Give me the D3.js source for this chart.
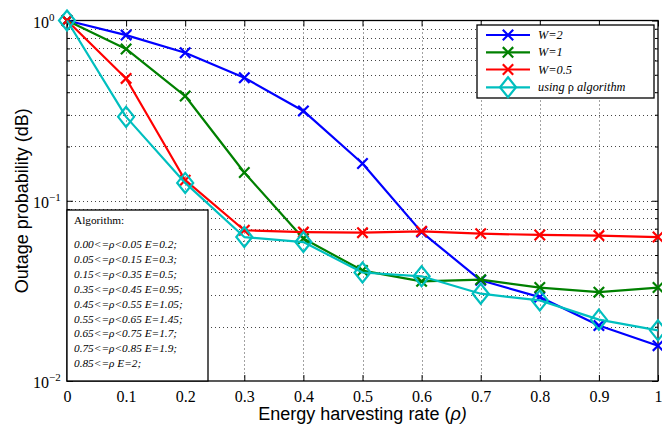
<!DOCTYPE html>
<html>
<head>
<meta charset="utf-8">
<script src="https://cdn.jsdelivr.net/npm/d3@7"></script>
<style>
  body { margin: 0; background: #fff; }
  svg { display: block; }
</style>
</head>
<body>
<svg id="chart" width="662" height="425"></svg>
<script>
// Energy harvesting rate (x) and outage probability for each weighting W
const rho = [0, 0.1, 0.2, 0.3, 0.4, 0.5, 0.6, 0.7, 0.8, 0.9, 1.0];
const outageW2  = [1.0, 0.83, 0.662, 0.481, 0.315, 0.161, 0.067, 0.0362, 0.0292, 0.0203, 0.0157];
const outageW1  = [1.0, 0.695, 0.381, 0.1435, 0.0617, 0.041, 0.0357, 0.0365, 0.033, 0.0311, 0.033];
const outageW05 = [1.0, 0.477, 0.13, 0.0686, 0.067, 0.0665, 0.0677, 0.0657, 0.0646, 0.0641, 0.0629];
const outageAlg = [1.0, 0.292, 0.1256, 0.0629, 0.059, 0.0400, 0.0381, 0.0305, 0.028, 0.0219, 0.0191];

const seriesNames  = ["W=2", "W=1", "W=0.5", "using ρ algorithm"];
const seriesColors = ["#0000ff", "#008000", "#ff0000", "#00bfbf"];
const seriesMarkers = ["cross", "cross", "cross", "diamond"];

const xTickLabels = ["0", "0.1", "0.2", "0.3", "0.4", "0.5", "0.6", "0.7", "0.8", "0.9", "1"];
const yDecades = [0.01, 0.1, 1];
const yExponents = ["−2", "−1", "0"];

const algorithmTitle = "Algorithm:";
const algorithmRules = [
  "0.00<=ρ<0.05 E=0.2;",
  "0.05<=ρ<0.15 E=0.3;",
  "0.15<=ρ<0.35 E=0.5;",
  "0.35<=ρ<0.45 E=0.95;",
  "0.45<=ρ<0.55 E=1.05;",
  "0.55<=ρ<0.65 E=1.45;",
  "0.65<=ρ<0.75 E=1.7;",
  "0.75<=ρ<0.85 E=1.9;",
  "0.85<=ρ E=2;"
];

const seriesValues = [outageW2, outageW1, outageW05, outageAlg];

// ---- layout ----
const plot = { left: 67, right: 658, top: 20.5, bottom: 381 };
const serif = "'Liberation Serif', 'Times New Roman', serif";
const sans = "'Liberation Sans', Arial, sans-serif";

const svg = d3.select("#chart");
svg.append("rect").attr("width", 662).attr("height", 425).attr("fill", "#fff");

const x = d3.scaleLinear().domain([0, 1]).range([plot.left, plot.right]);
const y = d3.scaleLog().domain([0.01, 1]).range([plot.bottom, plot.top]);

const allYTicks = y.ticks();
const minorYTicks = allYTicks.filter(v => !yDecades.some(d => Math.abs(d - v) < 1e-12));

// ---- dotted grid ----
const grid = svg.append("g").attr("stroke", "#444").attr("stroke-width", 1)
  .attr("stroke-dasharray", "1,3").attr("fill", "none");
grid.selectAll("line.gx").data(rho.slice(1, -1)).join("line").attr("class", "gx")
  .attr("x1", d => Math.round(x(d)) + 0.5).attr("x2", d => Math.round(x(d)) + 0.5)
  .attr("y1", plot.top).attr("y2", plot.bottom);
grid.selectAll("line.gy").data(allYTicks.filter(v => v > 0.0100001 && v < 0.99999)).join("line").attr("class", "gy")
  .attr("x1", plot.left).attr("x2", plot.right)
  .attr("y1", d => Math.round(y(d)) + 0.5).attr("y2", d => Math.round(y(d)) + 0.5);

// ---- axes (ticks point inward) ----
const axBottom = svg.append("g").attr("transform", `translate(0,${plot.bottom})`)
  .call(d3.axisBottom(x).tickValues(rho).tickFormat((d, i) => xTickLabels[i])
    .tickSizeInner(-6).tickSizeOuter(0).tickPadding(10));
axBottom.selectAll("text").attr("font-family", serif).attr("font-size", 16).attr("fill", "#000");

svg.append("g").attr("transform", `translate(0,${plot.top})`)
  .call(d3.axisTop(x).tickValues(rho).tickFormat("").tickSizeInner(-6).tickSizeOuter(0));

svg.append("g").attr("transform", `translate(${plot.left},0)`)
  .call(d3.axisLeft(y).tickValues(yDecades).tickFormat("").tickSizeInner(-6).tickSizeOuter(0));
svg.append("g").attr("transform", `translate(${plot.left},0)`)
  .call(d3.axisLeft(y).tickValues(minorYTicks).tickFormat("").tickSizeInner(-3).tickSizeOuter(0));
svg.append("g").attr("transform", `translate(${plot.right},0)`)
  .call(d3.axisRight(y).tickValues(yDecades).tickFormat("").tickSizeInner(-6).tickSizeOuter(0));
svg.append("g").attr("transform", `translate(${plot.right},0)`)
  .call(d3.axisRight(y).tickValues(minorYTicks).tickFormat("").tickSizeInner(-3).tickSizeOuter(0));

svg.selectAll(".domain").remove();
svg.selectAll(".tick line").attr("stroke", "#000");

// power-of-ten labels on the y axis
const yLab = svg.append("g").attr("font-family", serif).attr("fill", "#000");
yDecades.forEach((d, i) => {
  const t = yLab.append("text").attr("x", 33).attr("y", y(d) + 7).attr("font-size", 16);
  t.append("tspan").text("10");
  t.append("tspan").attr("dy", -7).attr("font-size", 11).text(yExponents[i]);
});

// frame
svg.append("rect").attr("x", plot.left).attr("y", plot.top)
  .attr("width", plot.right - plot.left).attr("height", plot.bottom - plot.top)
  .attr("fill", "none").attr("stroke", "#000").attr("stroke-width", 1.3);

// ---- series ----
const line = d3.line().x((d, i) => x(rho[i])).y(d => y(d));
function drawMarker(g, kind, cx, cy, color) {
  if (kind === "cross") {
    const s = 5.2;
    g.append("path").attr("d", `M${cx - s},${cy - s}L${cx + s},${cy + s}M${cx - s},${cy + s}L${cx + s},${cy - s}`)
      .attr("stroke", color).attr("stroke-width", 2.2).attr("fill", "none");
  } else {
    const w = 8, h = 10;
    g.append("path").attr("d", `M${cx},${cy - h}L${cx + w},${cy}L${cx},${cy + h}L${cx - w},${cy}Z`)
      .attr("stroke", color).attr("stroke-width", 2.2).attr("fill", "none");
  }
}

const seriesG = svg.append("g");
seriesValues.forEach((vals, k) => {
  const g = seriesG.append("g");
  g.append("path").datum(vals).attr("d", line).attr("fill", "none")
    .attr("stroke", seriesColors[k]).attr("stroke-width", 2.2).attr("stroke-linejoin", "round");
  vals.forEach((v, i) => drawMarker(g, seriesMarkers[k], x(rho[i]), y(v), seriesColors[k]));
});

// ---- legend ----
const leg = { x: 477, y: 25, w: 177, h: 73 };
const legG = svg.append("g");
legG.append("rect").attr("x", leg.x).attr("y", leg.y).attr("width", leg.w).attr("height", leg.h)
  .attr("fill", "#fff").attr("stroke", "#000").attr("stroke-width", 1.3);
const legRows = [35, 52.3, 69.5, 87.3];
seriesNames.forEach((name, k) => {
  const ry = legRows[k];
  legG.append("line").attr("x1", 486).attr("x2", 530).attr("y1", ry).attr("y2", ry)
    .attr("stroke", seriesColors[k]).attr("stroke-width", 2.2);
  drawMarker(legG, seriesMarkers[k], 508, ry, seriesColors[k]);
  const t = legG.append("text").attr("x", 538).attr("y", ry + 4).attr("font-family", serif)
    .attr("font-size", 12.3).attr("font-style", "italic").attr("fill", "#000");
  if (name.includes("ρ")) {
    const parts = name.split("ρ");
    t.append("tspan").text(parts[0]);
    t.append("tspan").attr("font-style", "normal").text("ρ");
    t.append("tspan").text(parts[1]);
  } else {
    t.text(name);
  }
});

// ---- algorithm box ----
const algG = svg.append("g");
algG.append("rect").attr("x", plot.left).attr("y", 210).attr("width", 208 - plot.left).attr("height", plot.bottom - 210)
  .attr("fill", "#fff").attr("stroke", "#000").attr("stroke-width", 1.3);
algG.append("text").attr("x", 74).attr("y", 224).attr("font-family", serif).attr("font-size", 11.3)
  .attr("fill", "#000").text(algorithmTitle);
algorithmRules.forEach((r, i) => {
  algG.append("text").attr("x", 74).attr("y", 248 + i * 14.9).attr("font-family", serif)
    .attr("font-size", 11.3).attr("font-style", "italic").attr("fill", "#000").text(r);
});

// ---- axis titles ----
const xt = svg.append("text").attr("x", (plot.left + plot.right) / 2).attr("y", 420)
  .attr("text-anchor", "middle").attr("font-family", sans).attr("font-size", 18).attr("fill", "#000");
xt.append("tspan").text("Energy harvesting rate (");
xt.append("tspan").attr("font-style", "italic").text("ρ)");

svg.append("text").attr("transform", `translate(28,${(plot.top + plot.bottom) / 2}) rotate(-90)`)
  .attr("text-anchor", "middle").attr("font-family", sans).attr("font-size", 18).attr("fill", "#000")
  .text("Outage probability (dB)");
</script>
</body>
</html>
